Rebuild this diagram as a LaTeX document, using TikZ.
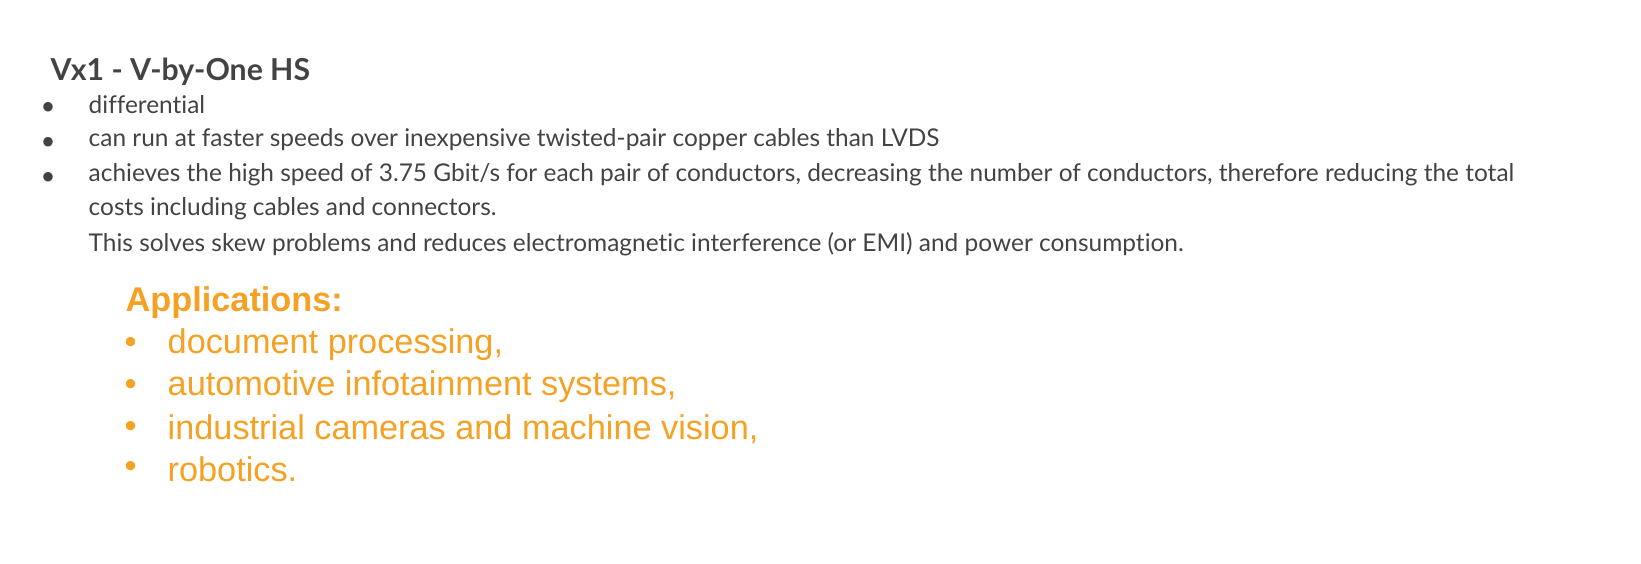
\documentclass[tikz,border=0pt]{standalone}
\usepackage{fontspec}
\setmainfont[Ligatures=NoCommon]{Lato}
\newfontfamily\appfont{Liberation Sans}
\usetikzlibrary{positioning}
\definecolor{bodygray}{HTML}{434343}
\definecolor{apporange}{HTML}{F5A124}

\begin{document}
\begin{tikzpicture}[x=0.01cm,y=-0.01cm,
    txt/.style={anchor=west, inner sep=0pt, text=bodygray, font=\fontsize{6.95}{8}\selectfont},
    dot/.style={anchor=center, inner sep=0pt, text=bodygray, font=\fontsize{6.5}{8}\selectfont},
    app/.style={anchor=west, inner sep=0pt, text=apporange, font=\appfont\fontsize{9.75}{11}\selectfont}
]
\useasboundingbox (0,0) rectangle (1641,563);

\node[txt, font=\bfseries\fontsize{8.6}{10}\selectfont] (title) at (50,72) {Vx1 - V-by-One HS};

\node[dot] (b1) at (48,107) {$\bullet$};
\node[dot] (b2) at (48,142) {$\bullet$};
\node[dot] (b3) at (48,177) {$\bullet$};
\node[txt] (t1) at (88,105) {differential};
\node[txt] (t2) at (88,140) {can run at faster speeds over inexpensive twisted-pair copper cables than LVDS};
\node[txt] (t3) at (88,175) {achieves the high speed of 3.75 Gbit/s for each pair of conductors, decreasing the number of conductors, therefore reducing the total};
\node[txt] (t4) at (88,209) {costs including cables and connectors.};
\node[txt] (t5) at (88,244) {This solves skew problems and reduces electromagnetic interference (or EMI) and power consumption.};

\node[app, font=\appfont\bfseries\fontsize{9.75}{11}\selectfont] (apps) at (125,303) {Applications:};
\foreach \y/\s [count=\i] in {345/{document processing,}, 387/{automotive infotainment systems,}, 429/{industrial cameras and machine vision,}, 469/{robotics.}} {
  \node[app] (ab\i) at (124,\y) {\textbullet};
  \node[app] (a\i) at (167,\y) {\s};
}
\end{tikzpicture}
\end{document}
